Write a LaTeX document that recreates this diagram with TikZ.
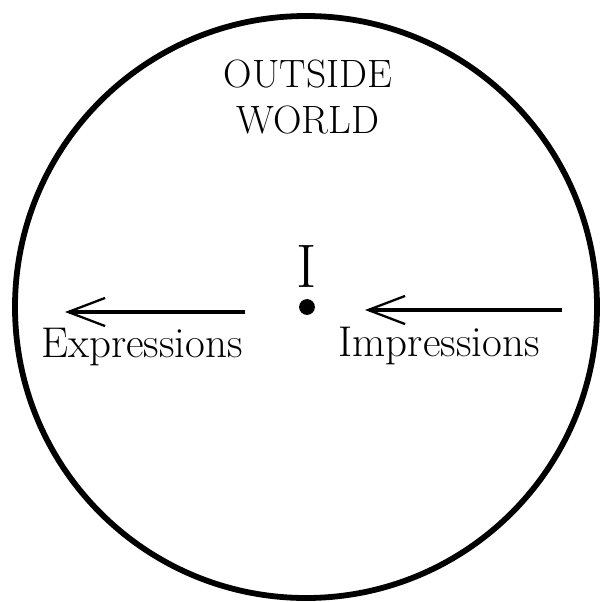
\documentclass[tikz,border=0pt]{standalone}
\usepackage{fontspec}
\usetikzlibrary{arrows.meta}
\begin{document}
\begin{tikzpicture}[x=0.02cm,y=-0.02cm,
    rim/.style={line width=3.3pt},
    flow/.style={line width=2pt,-{Straight Barb[length=21pt,width=16pt,line width=1.3pt]}},
    word/.style={font=\fontsize{24.5}{28}\selectfont,inner sep=0pt,anchor=base},
    me/.style={circle,fill=black,inner sep=0pt,minimum size=9pt}]
  \useasboundingbox (0,0) rectangle (600,602);
  % the outside world
  \draw[rim] (306,307) circle (291);
  \node[font=\fontsize{22.5}{26}\selectfont,align=center,inner sep=0pt,anchor=north]
    (world) at (308,60) {OUTSIDE\\WORLD};
  % the self in the middle
  \node[me] (dot) at (307,307) {};
  \node[font=\fontsize{35}{40}\selectfont,inner sep=0pt,anchor=base] (self) at (307,287) {I};
  % what comes in and what goes out
  \coordinate (inS) at (562,310);  \coordinate (inE) at (365,310);
  \coordinate (outS) at (245,312); \coordinate (outE) at (65,312);
  \draw[flow] (inS) -- (inE);
  \draw[flow] (outS) -- (outE);
  \node[word] (impr) at (439,356) {Impressions};
  \node[word] (expr) at (142,357) {Expressions};
\end{tikzpicture}
\end{document}
